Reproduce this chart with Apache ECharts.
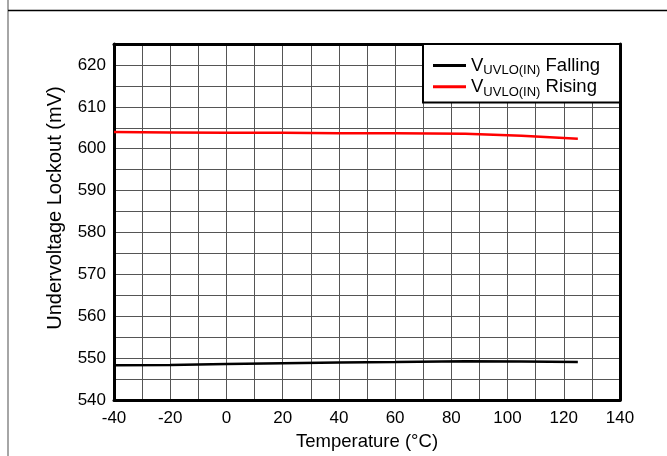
<!DOCTYPE html>
<html>
<head>
<meta charset="utf-8">
<script src="https://cdn.jsdelivr.net/npm/echarts@6/dist/echarts.min.js"></script>
<style>html,body{margin:0;padding:0;background:#fff;}#c{width:667px;height:456px;}</style>
</head>
<body>
<div id="c"></div>
<script>
// Data
const temps = [-40, -20, 0, 20, 40, 60, 85, 105, 125];
const falling = [548.3, 548.4, 548.6, 548.8, 549.0, 549.1, 549.3, 549.2, 549.1];
const rising = [604.0, 603.9, 603.8, 603.8, 603.7, 603.7, 603.6, 603.1, 602.4];
const seriesNames = ['Falling', 'Rising'];
const xTitle = 'Temperature (°C)';
const yTitle = 'Undervoltage Lockout (mV)';

const chart = echarts.init(document.getElementById('c'), null, {renderer: 'canvas'});
const font = 'Liberation Sans, Arial, sans-serif';
const pair = (xs, ys) => xs.map((x, i) => [x, ys[i]]);

chart.setOption({
  backgroundColor: '#fff',
  animation: false,
  textStyle: {fontFamily: font},
  graphic: [
    {type: 'line', shape: {x1: 8, y1: 0, x2: 8, y2: 456}, style: {stroke: '#888', lineWidth: 1.5}},
    {type: 'line', shape: {x1: 8, y1: 10.5, x2: 667, y2: 10.5}, style: {stroke: '#000', lineWidth: 1.5}}
  ],
  grid: {left: 114, top: 44, right: 47, bottom: 47, containLabel: false},
  legend: {
    orient: 'vertical', left: 423, top: 44,
    backgroundColor: '#fff', borderColor: '#000', borderWidth: 2,
    padding: [12, 20, 4, 10], itemGap: 0, itemWidth: 33, itemHeight: 3,
    icon: 'rect',
    data: seriesNames,
    formatter: n => '{v|V}{s|UVLO(IN)}{v| ' + n + '}',
    textStyle: {
      fontFamily: font, color: '#000',
      rich: {
        v: {fontSize: 18.5, fontFamily: font, color: '#000', lineHeight: 23.5, verticalAlign: 'middle'},
        s: {fontSize: 13, fontFamily: font, color: '#000', lineHeight: 13, verticalAlign: 'bottom'}
      }
    }
  },
  xAxis: [{
    type: 'value', min: -40, max: 140, interval: 10,
    name: xTitle, nameLocation: 'middle', nameGap: 28,
    nameTextStyle: {fontSize: 18.5, color: '#000', fontFamily: font},
    axisLine: {show: true, onZero: false, lineStyle: {color: '#000', width: 3}},
    axisTick: {show: false},
    axisLabel: {fontSize: 17, color: '#000', margin: 10, fontFamily: font,
      formatter: v => (v % 20 === 0 ? String(v) : '')},
    splitLine: {show: true, lineStyle: {color: '#555', width: 1}}
  }, {
    type: 'value', min: -40, max: 140, interval: 10, position: 'top',
    axisLine: {show: true, onZero: false, lineStyle: {color: '#000', width: 3}},
    axisTick: {show: false}, axisLabel: {show: false}, splitLine: {show: false}
  }],
  yAxis: [{
    type: 'value', min: 540, max: 625, interval: 5,
    name: yTitle, nameLocation: 'middle', nameGap: 49, nameRotate: 90,
    nameTextStyle: {fontSize: 20, color: '#000', fontFamily: font, padding: [0, 0, 0, 28]},
    axisLine: {show: true, onZero: false, lineStyle: {color: '#000', width: 3}},
    axisTick: {show: false},
    axisLabel: {fontSize: 17, color: '#000', margin: 8, fontFamily: font,
      formatter: v => (v % 10 === 0 && v <= 620 ? String(v) : '')},
    splitLine: {show: true, lineStyle: {color: '#555', width: 1}}
  }, {
    type: 'value', min: 540, max: 625, interval: 5, position: 'right',
    axisLine: {show: true, onZero: false, lineStyle: {color: '#000', width: 3}},
    axisTick: {show: false}, axisLabel: {show: false}, splitLine: {show: false}
  }],
  series: [
    {name: seriesNames[0], type: 'line', symbol: 'none', data: pair(temps, falling),
      lineStyle: {color: '#000', width: 2.5}, itemStyle: {color: '#000'}},
    {name: seriesNames[1], type: 'line', symbol: 'none', data: pair(temps, rising),
      lineStyle: {color: '#ff0000', width: 2.5}, itemStyle: {color: '#ff0000'}}
  ]
});
</script>
</body>
</html>
